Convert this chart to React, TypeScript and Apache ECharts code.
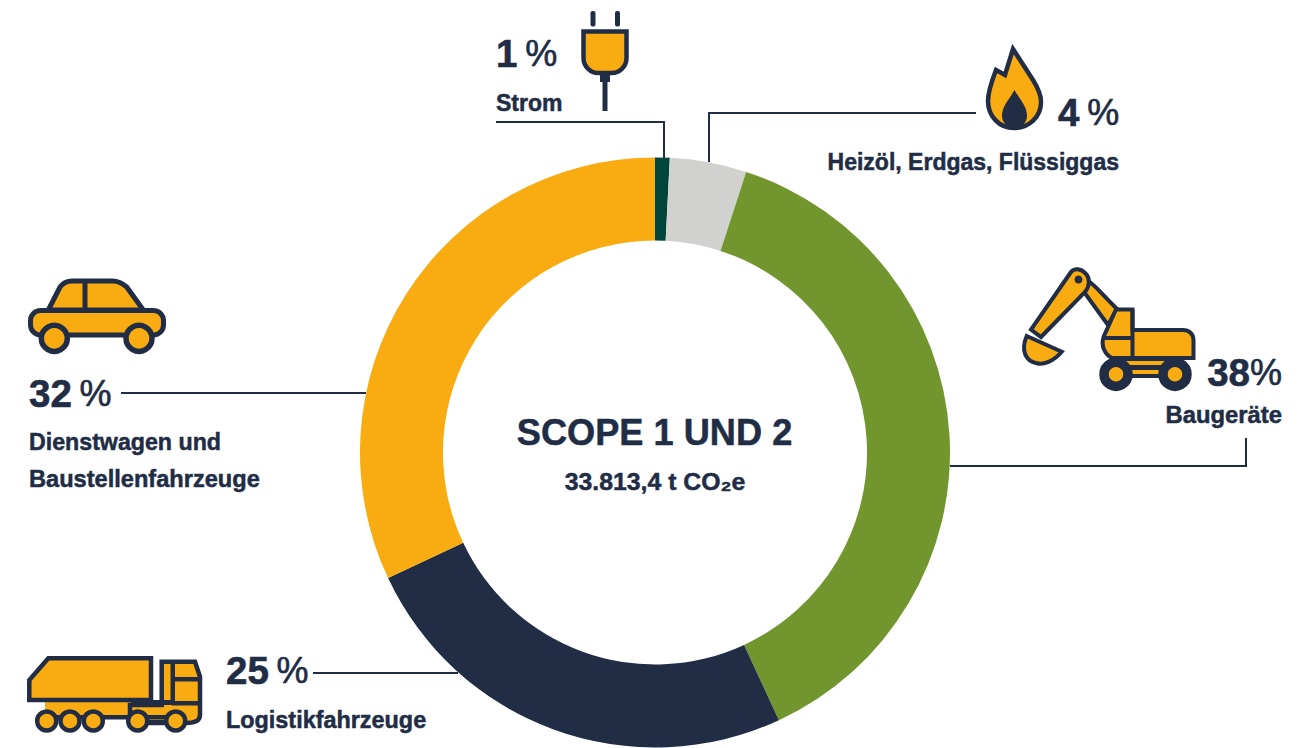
import React, { useEffect, useRef } from "react";
import * as echarts from "echarts";

const categories = ["Strom", "Heizöl, Erdgas, Flüssiggas", "Baugeräte", "Logistikfahrzeuge", "Dienstwagen und Baustellenfahrzeuge"];
const shares = [0.8, 4.2, 38.1, 24.9, 32.0];
const sliceColors = ["#00443A", "#D1D1CF", "#72962E", "#212C45", "#F9AC11"];
const percentNumbers = ["1", "4", "38", "25", "32"];
const titleText = "SCOPE 1 UND 2";
const subtitleText = "33.813,4 t CO₂e";

const NAVY = "#212C45";
const ORANGE = "#F9AC11";
const FONT = '"Liberation Sans", Arial, sans-serif';

const shapes: Record<string, string> = {
  plugBody: "M583.5 31.5 H626.5 V58 C626.5 67 619 73 612 73 H598 C591 73 583.5 67 583.5 58 Z",
  flame: "M1013 49 L1033 80 C1038 88 1041 94 1041 102 C1041 117 1029 128 1014 128 C999 128 988 116 988 101 C988 92 991 83 996 70 L1005 75 Z",
  flameCore: "M1014.5 90 C1020 100 1027 106 1027 116 C1027 123 1021 128 1014.5 128 C1008 128 1002 123 1002 116 C1002 106 1009 100 1014.5 90 Z",
  exStick: "M1071 272 L1031 329.5 L1041 337 L1085 292 C1090 286 1090 278 1086 274 C1081 268 1074 268 1071 272 Z",
  exBoom: "M1088 281 C1094 284 1098 290 1117 309 L1108 325 L1084 292 Z",
  exCab: "M1116 309.5 H1132.5 V330 H1183 C1189 330 1193.5 334 1193.5 340 V358 H1112 C1104 354 1101 345 1103.5 337 Z",
  exBucket: "M1026.7 336 L1061.7 351.7 C1053.3 361.7 1043.3 365 1036.7 363.3 C1026.7 361.7 1020 351.7 1026.7 336 Z",
  carRoof: "M48.3 310 L60 287 C63 283 67 281 72 281 H113 C118 281 122 283 126.7 287 L143.3 310 Z",
  truckBox: "M48.3 658.3 H151 V700 H29.3 V680 Z",
  truckCab: "M161.7 661.7 H195 L200 676.7 V715 C200 720 195 723 186 723 H130 V705 H161.7 Z",
};
Object.entries(shapes).forEach(([name, d]) => {
  echarts.graphic.registerShape(name, echarts.graphic.extendPath(d, {}) as any);
});

const outlined = (type: string, lineWidth = 4.5) => ({
  type, silent: true, style: { fill: ORANGE, stroke: NAVY, lineWidth, lineJoin: "miter" },
});
const solid = (type: string) => ({ type, silent: true, style: { fill: NAVY } });
const bar = (x: number, y: number, width: number, height: number, fill = NAVY, r = 0) => ({
  type: "rect", silent: true, shape: { x, y, width, height, r }, style: { fill },
});
const wheel = (cx: number, cy: number, r: number, lineWidth: number) => ({
  type: "circle", silent: true, shape: { cx, cy, r }, style: { fill: ORANGE, stroke: NAVY, lineWidth },
});
const leader = (points: number[][]) => ({
  type: "polyline", silent: true, shape: { points },
  style: { fill: "none", stroke: NAVY, lineWidth: 2 },
});
const label = (text: string, x: number, baseline: number, size: number, align = "left") => ({
  type: "text", silent: true, x, y: baseline - size * 0.36,
  style: {
    text, fill: NAVY, font: `bold ${size}px ${FONT}`, align, verticalAlign: "middle",
    stroke: NAVY, lineWidth: 0.5,
  },
});
const percent = (num: string, gap: boolean, x: number, baseline: number, align = "left") => ({
  type: "text", silent: true, x, y: baseline - 13.5,
  style: {
    text: `{n|${num}}${gap ? "{s| }" : ""}{p|%}`, align, verticalAlign: "middle",
    fill: NAVY, font: `bold 38.5px ${FONT}`,
    rich: {
      n: { font: `bold 38.5px ${FONT}`, fill: NAVY, stroke: NAVY, lineWidth: 0.6 },
      s: { font: `normal 28px ${FONT}`, fill: NAVY },
      p: { font: `normal 36px ${FONT}`, fill: NAVY, stroke: NAVY, lineWidth: 0.6 },
    },
  },
});

const graphics = [
  // leader lines
  leader([[496, 122], [664, 122], [664, 158]]),
  leader([[709, 162], [709, 113], [976, 113]]),
  leader([[950, 466], [1246, 466], [1246, 438]]),
  leader([[121, 393], [366, 393]]),
  leader([[313, 673], [458, 673]]),
  // plug
  bar(590.5, 11, 5, 15.5, NAVY, 2),
  bar(615, 11, 5, 15.5, NAVY, 2),
  outlined("plugBody"),
  bar(600, 73, 10, 9),
  bar(602.5, 80, 5, 31),
  // flame
  outlined("flame"),
  solid("flameCore"),
  // excavator
  outlined("exBoom", 4),
  outlined("exStick", 4),
  { type: "circle", silent: true, shape: { cx: 1078.5, cy: 279.5, r: 4 }, style: { fill: NAVY } },
  outlined("exBucket", 4),
  outlined("exCab", 4),
  bar(1103, 336, 30, 4),
  bar(1130.5, 310, 4, 48),
  bar(1115, 358, 58, 20),
  bar(1125, 361, 42, 4, ORANGE),
  bar(1125, 370, 42, 4, ORANGE),
  wheel(1116, 374.3, 12, 9.5),
  wheel(1175, 374.3, 12, 9.5),
  // car
  outlined("carRoof", 5),
  bar(82.5, 281, 5, 30),
  { type: "rect", silent: true, shape: { x: 30.5, y: 310.5, width: 133, height: 24.5, r: 10 }, style: { fill: ORANGE, stroke: NAVY, lineWidth: 5 } },
  wheel(54.3, 338.3, 13, 5.5),
  wheel(139, 338.3, 13, 5.5),
  // truck
  bar(45, 702, 90, 15, ORANGE),
  outlined("truckCab", 4.5),
  bar(170.5, 662, 4.5, 41),
  bar(172, 677, 28, 4.5),
  bar(172, 701, 28, 4.5),
  bar(131, 700, 42, 5),
  bar(44, 715, 135, 4.5),
  bar(140, 720, 36, 4.5),
  outlined("truckBox", 4.5),
  wheel(46.7, 721, 9.5, 4.5),
  wheel(70, 721, 9.5, 4.5),
  wheel(93.3, 721, 9.5, 4.5),
  wheel(137.7, 721, 9.5, 4.5),
  wheel(175.7, 721, 9.5, 4.5),
  // texts
  percent(percentNumbers[0], true, 496, 67),
  label(categories[0], 496, 111, 23),
  percent(percentNumbers[1], true, 1058, 125.5),
  label(categories[1], 1119, 170, 23, "right"),
  percent(percentNumbers[2], false, 1282, 386, "right"),
  label(categories[2], 1282, 423, 23.8, "right"),
  percent(percentNumbers[4], true, 29, 407),
  label("Dienstwagen und", 29, 450, 23.2),
  label("Baustellenfahrzeuge", 29, 487, 23.6),
  percent(percentNumbers[3], true, 226, 684),
  label(categories[3], 226, 728, 23.4),
  label(titleText, 654.5, 446, 36.2, "center"),
  label(subtitleText, 655, 490.5, 24.8, "center"),
];

export default function App() {
  const ref = useRef<HTMLDivElement>(null);
  useEffect(() => {
    const chart = echarts.init(ref.current!, undefined, { renderer: "svg" });
    chart.setOption({
      animation: false,
      backgroundColor: "#ffffff",
      series: [
        {
          type: "pie",
          silent: true,
          center: [655, 452.5],
          radius: [212, 295],
          startAngle: 90,
          clockwise: true,
          label: { show: false },
          labelLine: { show: false },
          data: categories.map((name, i) => ({
            name,
            value: shares[i],
            itemStyle: { color: sliceColors[i] },
          })),
        },
      ],
      graphic: { elements: graphics },
    });
    return () => chart.dispose();
  }, []);
  return (
    <div
      ref={ref}
      style={{ position: "absolute", left: 0, top: 0, width: 1316, height: 748, overflow: "hidden" }}
    />
  );
}
